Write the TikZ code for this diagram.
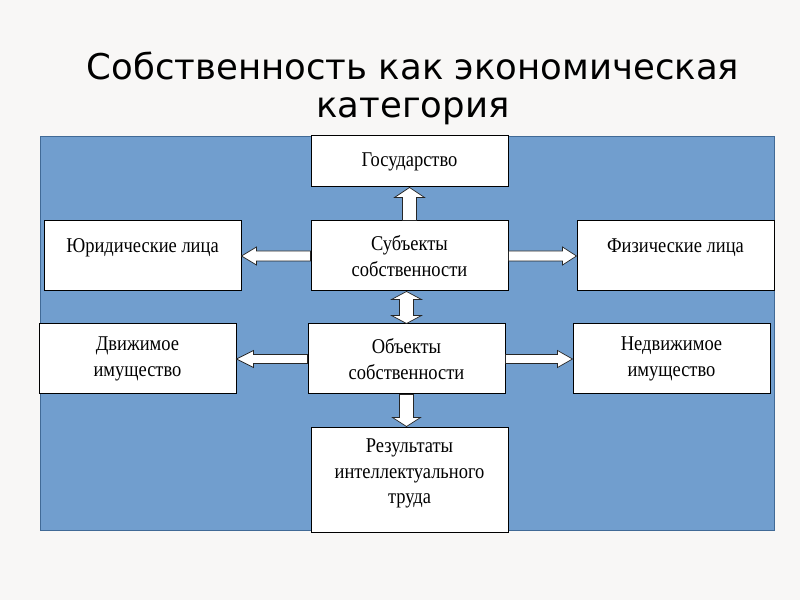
\documentclass[tikz,border=0pt]{standalone}
\usepackage{fontspec}
\setmainfont{Liberation Serif}
\newfontfamily\titlefont{DejaVu Sans}
\newfontfamily\boxfont[FakeStretch=0.88]{Liberation Serif}
\usetikzlibrary{positioning,calc}

\definecolor{pagebg}{RGB}{248,247,246}
\definecolor{panelblue}{RGB}{113,158,206}
\definecolor{paneledge}{RGB}{65,106,150}

% block arrow: from, to, shaft half width, head half width, head length
\newcommand\fatarrow[5]{%
  \coordinate (fa-h) at ($(#2)!#5!(#1)$);
  \draw[fat arrow] ($(#1)!#3!90:(#2)$) -- ($(fa-h)!#3!90:(#2)$)
    -- ($(fa-h)!#4!90:(#2)$) -- (#2) -- ($(fa-h)!#4!-90:(#2)$)
    -- ($(fa-h)!#3!-90:(#2)$) -- ($(#1)!#3!-90:(#2)$) -- cycle;}
% same, with a head at both ends
\newcommand\fatdarrow[5]{%
  \coordinate (fa-h) at ($(#2)!#5!(#1)$);
  \coordinate (fa-t) at ($(#1)!#5!(#2)$);
  \draw[fat arrow] (#1) -- ($(fa-t)!#4!90:(#2)$) -- ($(fa-t)!#3!90:(#2)$)
    -- ($(fa-h)!#3!90:(#2)$) -- ($(fa-h)!#4!90:(#2)$) -- (#2)
    -- ($(fa-h)!#4!-90:(#2)$) -- ($(fa-h)!#3!-90:(#2)$)
    -- ($(fa-t)!#3!-90:(#2)$) -- ($(fa-t)!#4!-90:(#2)$) -- cycle;}

\begin{document}
\begin{tikzpicture}[x=1pt,y=1pt,
  box/.style={rectangle,draw=black,line width=1pt,fill=white,
    minimum width=197pt,minimum height=70pt,inner sep=0pt,align=center,
    font=\boxfont\fontsize{21}{25.5}\selectfont},
  fat arrow/.style={draw=black!85,line width=0.7pt,fill=white,line join=miter},
  title/.style={font=\titlefont\fontsize{35.5}{38}\selectfont,anchor=base}]

  \fill[pagebg] (0,0) rectangle (800,600);
  \useasboundingbox (0,0) rectangle (800,600);
  \draw[fill=panelblue,draw=paneledge,line width=1pt] (40,70) rectangle (774,463);

  \node[title] (title1) at (413,520) {Собственность как экономическая};
  \node[title] (title2) at ([yshift=-38pt]title1.base) {категория};

  \node[box]                      (subj) at (409.5,344) {Субъекты\\собственности};
  \node[box,minimum height=51pt]  (gos)   [above=33pt of subj]  {Государство};
  \node[box]                      (jur)   [left=69pt of subj]   {Юридические лица\\[-4pt]\mbox{}};
  \node[box]                      (fiz)   [right=68pt of subj]  {Физические лица\\[-4pt]\mbox{}};
  \node[box]                      (obj)   [below=32pt of subj,xshift=-3pt] {Объекты\\собственности};
  \node[box]                      (dvizh) [left=71pt of obj]    {Движимое\\имущество};
  \node[box]                      (nedv)  [right=67pt of obj]   {Недвижимое\\имущество};
  \node[box,minimum height=105pt] (res)   [below=32pt of obj,xshift=3pt]
    {Результаты\\интеллектуального\\труда\\[-9pt]\mbox{}};

  \fatarrow{subj.north}{gos.south}{7pt}{15pt}{10pt}
  \fatarrow{subj.west}{jur.west -| jur.east}{5pt}{9pt}{15pt}
  \fatarrow{subj.east}{fiz.east -| fiz.west}{5pt}{9pt}{14pt}
  \fatdarrow{subj.south -| obj.north}{obj.north}{7pt}{15pt}{8pt}
  \fatarrow{obj.west}{dvizh.west -| dvizh.east}{4.5pt}{8.5pt}{17pt}
  \fatarrow{obj.east}{nedv.east -| nedv.west}{4.5pt}{8.5pt}{15pt}
  \fatarrow{obj.south}{obj.south |- res.north}{7pt}{14pt}{9pt}

\end{tikzpicture}
\end{document}
